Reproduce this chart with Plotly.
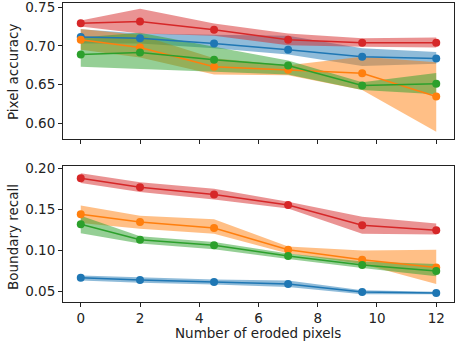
import plotly.graph_objects as go

x_vals = [0, 2, 4.5, 7, 9.5, 12]
x_ticks = [0, 2, 4, 6, 8, 10, 12]

# Pixel accuracy (top panel)
pa_blue = [0.7116, 0.710, 0.703, 0.695, 0.686, 0.6836]
pa_blue_lo = [0.703, 0.703, 0.697, 0.689, 0.674, 0.677]
pa_blue_hi = [0.7215, 0.716, 0.7145, 0.713, 0.697, 0.692]
pa_orange = [0.708, 0.698, 0.673, 0.669, 0.6646, 0.6345]
pa_orange_lo = [0.695, 0.685, 0.663, 0.662, 0.643, 0.589]
pa_orange_hi = [0.722, 0.714, 0.684, 0.675, 0.686, 0.679]
pa_green = [0.689, 0.6914, 0.682, 0.6746, 0.6487, 0.651]
pa_green_lo = [0.673, 0.6695, 0.6665, 0.663, 0.643, 0.6375]
pa_green_hi = [0.711, 0.717, 0.699, 0.681, 0.653, 0.665]
pa_red = [0.7293, 0.7315, 0.721, 0.708, 0.704, 0.704]
pa_red_lo = [0.725, 0.716, 0.713, 0.701, 0.699, 0.698]
pa_red_hi = [0.733, 0.748, 0.729, 0.716, 0.710, 0.711]

# Boundary recall (bottom panel)
br_blue = [0.0662, 0.0634, 0.061, 0.0585, 0.0488, 0.0476]
br_blue_lo = [0.063, 0.060, 0.058, 0.055, 0.046, 0.046]
br_blue_hi = [0.069, 0.067, 0.064, 0.063, 0.051, 0.049]
br_orange = [0.1439, 0.1345, 0.127, 0.1004, 0.0882, 0.0788]
br_orange_lo = [0.133, 0.126, 0.120, 0.096, 0.083, 0.0585]
br_orange_hi = [0.1545, 0.142, 0.1378, 0.1045, 0.0996, 0.1004]
br_green = [0.1317, 0.1126, 0.106, 0.0927, 0.0817, 0.0744]
br_green_lo = [0.1207, 0.108, 0.101, 0.089, 0.078, 0.068]
br_green_hi = [0.142, 0.117, 0.110, 0.096, 0.086, 0.083]
br_red = [0.1878, 0.1768, 0.168, 0.1552, 0.1305, 0.1244]
br_red_lo = [0.182, 0.171, 0.162, 0.151, 0.1199, 0.119]
br_red_hi = [0.194, 0.183, 0.175, 0.159, 0.1408, 0.1325]

colors = ["#1f77b4", "#ff7f0e", "#2ca02c", "#d62728"]
fills = ["rgba(31,119,180,0.5)", "rgba(255,127,14,0.5)",
         "rgba(44,160,44,0.5)", "rgba(214,39,40,0.5)"]

top = [(pa_blue, pa_blue_lo, pa_blue_hi), (pa_orange, pa_orange_lo, pa_orange_hi),
       (pa_green, pa_green_lo, pa_green_hi), (pa_red, pa_red_lo, pa_red_hi)]
bot = [(br_blue, br_blue_lo, br_blue_hi), (br_orange, br_orange_lo, br_orange_hi),
       (br_green, br_green_lo, br_green_hi), (br_red, br_red_lo, br_red_hi)]

fig = go.Figure()
for panel, (xa, ya) in [(top, ("x", "y")), (bot, ("x2", "y2"))]:
    for i, (m, lo, hi) in enumerate(panel):
        fig.add_trace(go.Scatter(
            x=x_vals + x_vals[::-1], y=hi + lo[::-1], fill="toself",
            fillcolor=fills[i], line=dict(width=0), mode="lines",
            hoverinfo="skip", showlegend=False, xaxis=xa, yaxis=ya))
    for i, (m, lo, hi) in enumerate(panel):
        fig.add_trace(go.Scatter(
            x=x_vals, y=m, mode="lines+markers",
            line=dict(color=colors[i], width=1.5),
            marker=dict(color=colors[i], size=8),
            showlegend=False, xaxis=xa, yaxis=ya))

FONT = "DejaVu Sans"
FS = 13.5
axis_common = dict(showline=True, linecolor="#222", linewidth=1, mirror=True,
                   ticks="outside", ticklen=4, tickcolor="#222", showgrid=False,
                   zeroline=False, automargin=False, ticklabeloverflow="allow",
                   tickfont=dict(family=FONT, size=FS, color="#222"))

fig.update_layout(
    width=461, height=348,
    margin=dict(l=63, r=7, t=3, b=46),
    plot_bgcolor="white", paper_bgcolor="white",
    font=dict(family=FONT, size=FS, color="#222"),
    xaxis=dict(domain=[0, 1], range=[-0.6, 12.6], tickvals=x_ticks,
               showticklabels=False, anchor="y", matches="x2", **axis_common),
    yaxis=dict(domain=[0.545, 1], range=[0.5795, 0.7555],
               tickvals=[0.60, 0.65, 0.70, 0.75], tickformat=".2f",
               anchor="x", **axis_common),
    xaxis2=dict(domain=[0, 1], range=[-0.6, 12.6], tickvals=x_ticks,
                anchor="y2", **axis_common),
    yaxis2=dict(domain=[0, 0.4548], range=[0.0366, 0.2028],
                tickvals=[0.05, 0.10, 0.15, 0.20], tickformat=".2f",
                anchor="x2", **axis_common),
    annotations=[
        dict(text="Pixel accuracy", x=13, y=348 - 72, xref="paper", yref="paper",
             showarrow=False, textangle=-90, font=dict(family=FONT, size=FS, color="#222")),
        dict(text="Boundary recall", x=13, y=348 - 237, xref="paper", yref="paper",
             showarrow=False, textangle=-90, font=dict(family=FONT, size=FS, color="#222")),
        dict(text="Number of eroded pixels", x=258, y=348 - 333, xref="paper", yref="paper",
             showarrow=False, font=dict(family=FONT, size=FS, color="#222")),
    ],
)

# convert pixel positions of annotations to paper fractions
pw, ph = 461 - 63 - 7, 348 - 3 - 46
for a in fig.layout.annotations:
    a.x = (a.x - 63) / pw
    a.y = (a.y - 46) / ph
    a.xanchor = "center"
    a.yanchor = "middle"

fig.write_html("out.html", config={"displayModeBar": False},
               post_script="document.body.style.margin='0';document.body.style.overflow='hidden';")
